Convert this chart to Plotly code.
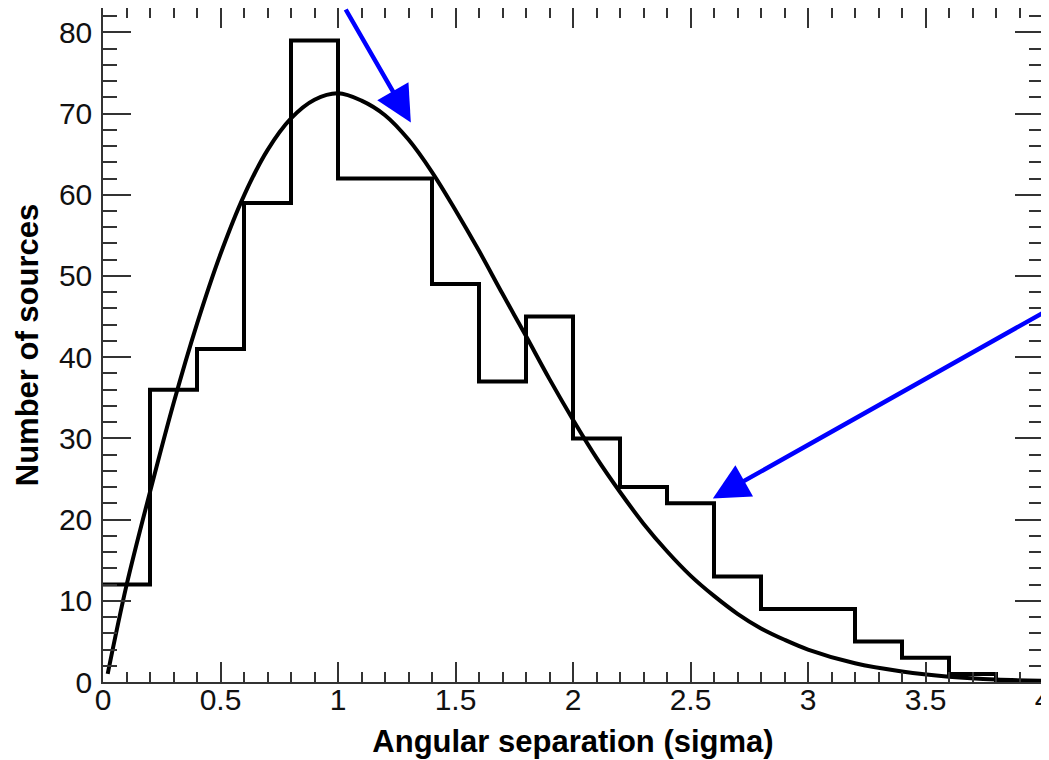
import plotly.graph_objects as go

# Histogram bins (angular separation in sigma) and counts
bin_edges = [0.0, 0.2, 0.4, 0.6, 0.8, 1.0, 1.2, 1.4, 1.6, 1.8, 2.0,
             2.2, 2.4, 2.6, 2.8, 3.0, 3.2, 3.4, 3.6, 3.8, 4.0]
counts = [12, 36, 41, 59, 79, 62, 62, 49, 37, 45,
          30, 24, 22, 13, 9, 9, 5, 3, 1, 0]

# Fitted curve
curve_x = [0.02, 0.1, 0.2, 0.3, 0.4, 0.5, 0.6, 0.7, 0.8, 0.9, 1.0, 1.1, 1.2,
           1.3, 1.4, 1.5, 1.6, 1.7, 1.8, 1.9, 2.0, 2.1, 2.2, 2.3, 2.4, 2.5,
           2.6, 2.7, 2.8, 2.9, 3.0, 3.2, 3.4, 3.6, 3.8, 4.0]
curve_y = [1.0, 11.9, 23.4, 34.3, 44.1, 52.7, 59.9, 65.5, 69.4, 71.7, 72.5,
           71.6, 69.8, 66.8, 62.8, 58.1, 53.1, 47.8, 42.6, 37.3, 32.3, 27.6,
           23.4, 19.5, 16.1, 13.1, 10.6, 8.4, 6.6, 5.2, 4.0, 2.3, 1.3, 0.66,
           0.3, 0.16]

x_ticks = [0, 0.5, 1, 1.5, 2, 2.5, 3, 3.5, 4]
x_ticktext = ["0", "0.5", "1", "1.5", "2", "2.5", "3", "3.5", "4"]
y_ticks = [0, 10, 20, 30, 40, 50, 60, 70, 80]

# Arrow targets (data coordinates)
arrow_x = [1.31, 2.595]
arrow_y = [68.9, 22.6]

step_y = counts + [counts[-1]]

fig = go.Figure()
fig.add_trace(go.Scatter(x=bin_edges, y=step_y, mode="lines",
                         line=dict(color="black", width=4, shape="hv"),
                         showlegend=False, cliponaxis=True))
fig.add_trace(go.Scatter(x=curve_x, y=curve_y, mode="lines",
                         line=dict(color="black", width=4, shape="spline"),
                         showlegend=False))

arrow_offsets = [(-66, -132), (370, -189)]
for ax_, (ox, oy) in zip(zip(arrow_x, arrow_y), arrow_offsets):
    fig.add_annotation(x=ax_[0], y=ax_[1], xref="x", yref="y",
                       ax=ox, ay=oy, axref="pixel", ayref="pixel",
                       showarrow=True, arrowhead=2, arrowsize=1.6,
                       arrowwidth=4.5, arrowcolor="#0000ff", text="")

tickfont = dict(family="Liberation Sans, Arial, sans-serif", size=30, color="#111")
titlefont = dict(family="Liberation Sans, Arial, sans-serif", size=31, color="black")

fig.update_xaxes(range=[0, 4], tickvals=x_ticks, ticktext=x_ticktext,
                 ticks="inside", ticklen=20, tickwidth=1.5, tickcolor="#333",
                 minor=dict(ticks="inside", dtick=0.1, ticklen=10, tickwidth=1.5, tickcolor="#333"),
                 showline=True, linecolor="#333", linewidth=1.5, mirror="allticks",
                 showgrid=False, zeroline=False, tickfont=tickfont,
                 automargin=False, ticklabeloverflow="allow", ticklabelstandoff=-10,
                 title=dict(text="<b>Angular separation (sigma)</b>", font=titlefont, standoff=16))
fig.update_yaxes(range=[0, 83], tickvals=y_ticks,
                 ticks="inside", ticklen=28, tickwidth=1.5, tickcolor="#333",
                 minor=dict(ticks="inside", dtick=2, ticklen=14, tickwidth=1.5, tickcolor="#333"),
                 showline=True, linecolor="#333", linewidth=1.5, mirror="allticks",
                 showgrid=False, zeroline=False, tickfont=tickfont,
                 automargin=False, ticklabeloverflow="allow", ticklabelstandoff=3,
                 title=dict(text="<b>Number of sources</b>", font=titlefont, standoff=11))

# page body has an 8px default margin; size the figure to the visible area
fig.update_layout(width=1041, height=752, plot_bgcolor="white", paper_bgcolor="white",
                  margin=dict(l=95, r=6, t=0, b=78), showlegend=False)

fig.write_html("out.html")
